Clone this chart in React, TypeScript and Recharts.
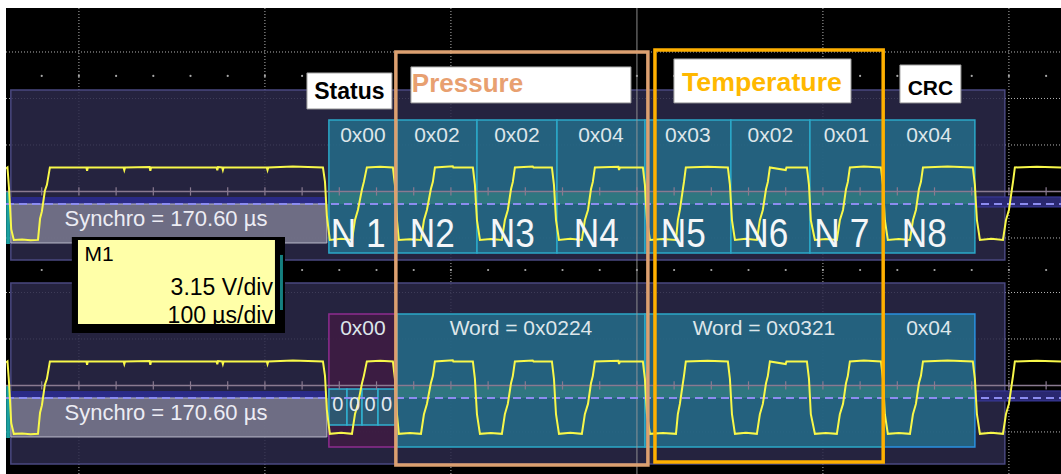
import React from 'react';
import { ComposedChart, Line, XAxis, YAxis, ReferenceArea, ReferenceLine, ReferenceDot } from 'recharts';

const W = 1055;
const H = 466;
const SANS = "'Liberation Sans', Arial, Helvetica, sans-serif";

// ---------------- data ----------------
// time in µs (0 = trigger), volts (3.15 V/div)
const timeDomain: [number, number] = [-339.2, 228];
const topVoltDomain: [number, number] = [-15.99, 15.58];
const botVoltDomain: [number, number] = [-2.85, 28.73];

// M1 trace: [time µs, volts]
const signalPoints: [number, number][] = [
  [-339.2, 4.7], [-338.4, 4.78], [-337.6, 3.4], [-336.4, 0.6], [-335.0, -0.13],
  [-330.5, -0.1], [-326.0, -0.16],
  [-322.0, -0.13], [-320.9, 1.3], [-319.9, 1.8], [-318.3, 3.2], [-317.2, 3.6], [-315.6, 4.78],
  [-296.0, 4.78], [-295.6, 4.55], [-295.2, 4.78],
  [-276.0, 4.78], [-275.6, 4.6], [-275.2, 4.78],
  [-262.0, 4.8], [-261.6, 4.55], [-261.2, 4.78],
  [-226.0, 4.78], [-225.6, 4.58], [-225.2, 4.8],
  [-223.0, 4.78], [-222.6, 4.6], [-222.2, 4.78],
  [-199.0, 4.78], [-198.6, 4.6], [-198.2, 4.78],
  [-185.0, 4.84],
  [-168.8, 4.78], [-167.7, 3.8], [-166.7, 1.5], [-165.1, -0.13],
  [-159.0, -0.06],
  [-153.2, -0.13], [-151.6, 1.2], [-150.0, 1.9], [-147.8, 3.3], [-146.8, 3.8], [-145.2, 4.78],
  [-138.0, 4.82],
  [-131.2, 4.78], [-130.1, 3.6], [-129.0, 1.2], [-128.0, -0.13],
  [-122.0, -0.08],
  [-116.1, -0.13], [-114.5, 1.2], [-112.9, 1.9], [-110.8, 3.3], [-109.7, 3.8], [-108.6, 4.78],
  [-99.0, 4.86], [-98.7, 4.78],
  [-88.2, 4.78], [-87.1, 3.6], [-86.0, 1.2], [-84.4, -0.13],
  [-78.5, -0.07],
  [-72.6, -0.13], [-71.0, 1.2], [-69.4, 1.9], [-67.7, 3.3], [-66.7, 3.8], [-65.6, 4.78],
  [-56.0, 4.84], [-55.6, 4.78],
  [-45.7, 4.78], [-44.6, 3.6], [-43.5, 1.2], [-41.9, -0.13],
  [-35.8, -0.06],
  [-29.6, -0.13], [-28.0, 1.2], [-26.3, 1.9], [-24.7, 3.3], [-23.7, 3.8], [-22.6, 4.78],
  [-10.0, 4.82], [-9.6, 4.6], [-9.2, 4.78],
  [3.2, 4.78], [4.3, 3.6], [5.4, 1.2], [7.0, -0.13],
  [14.0, -0.07],
  [21.0, -0.13], [22.0, 1.2], [23.1, 1.9], [24.7, 3.3], [25.3, 3.8], [26.3, 4.78],
  [38.0, 4.83],
  [48.9, 4.78], [50.0, 3.6], [51.1, 1.2], [52.7, -0.13],
  [58.6, -0.06],
  [64.5, -0.13], [66.1, 1.2], [67.7, 1.9], [69.4, 3.3], [70.4, 3.8], [71.5, 4.78],
  [80.0, 4.6], [80.4, 4.78],
  [91.4, 4.78], [92.5, 3.6], [93.5, 1.2], [95.7, -0.13],
  [101.6, -0.07],
  [107.5, -0.13], [109.1, 1.2], [110.8, 1.9], [112.4, 3.3], [113.4, 3.8], [114.5, 4.78],
  [122.0, 4.84],
  [131.2, 4.78], [132.3, 3.6], [133.3, 1.2], [134.9, -0.13],
  [140.8, -0.07],
  [146.8, -0.13], [148.4, 1.2], [150.0, 1.9], [151.6, 3.3], [152.7, 3.8], [153.8, 4.78],
  [167.0, 4.84],
  [180.6, 4.78], [181.7, 3.6], [182.8, 1.2], [184.4, -0.13],
  [190.6, -0.06],
  [196.8, -0.13], [198.4, 1.2], [200.0, 1.9], [201.6, 3.3], [202.2, 3.8], [203.2, 4.78],
  [215.0, 4.82], [228.0, 4.78],
];
const signal = signalPoints.map(([t, v]) => ({ t, v }));

const majorTimes = [-300, -200, -100, 100, 200];
const triggerTime = 0;
const minorTimes = [-320, -300, -280, -260, -240, -220, -200, -180, -160, -140, -120, -100, -80, -60, -40, -20, 0, 20, 40, 60, 80, 100, 120, 140, 160, 180, 200, 220];
const topGridVolts = [12.6, 9.45, 6.3, 0];
const botGridVolts = [9.45, 6.3, 0];
const axisVolts = 3.15;
const thresholdVolts = 2.3;
const dotRowVolts = [10.98, -2.17];

const byteEdges = [-165.6, -129.0, -86.0, -43.0, 4.3, 50.5, 93.0, 132.3, 181.7];
const byteValues = ['0x00', '0x02', '0x02', '0x04', '0x03', '0x02', '0x01', '0x04'];
const nibbleNames = ['N 1', 'N2', 'N3', 'N4', 'N5', 'N6', 'N 7', 'N8'];
const wordEdges = [-165.6, -129.0, 4.3, 132.3, 181.7];
const wordValues = ['0x00', 'Word = 0x0224', 'Word = 0x0321', '0x04'];
const statusBitEdges = [-165.6, -155.9, -147.8, -139.2, -130.1];
const statusBitValues = ['0', '0', '0', '0'];
const synchroLabel = 'Synchro = 170.60 µs';
const probeLines = ['M1', '3.15 V/div', '100 µs/div'];
const fieldNames = ['Status', 'Pressure', 'Temperature', 'CRC'];

// ---------------- helpers ----------------
type TextOpts = { anchor?: 'start' | 'middle' | 'end'; size: number; color: string; weight?: number | string; family?: string; len?: number };
const textShape = (label: string, o: TextOpts) => (p: any) => (
  <text
    x={p.cx}
    y={p.cy}
    textAnchor={o.anchor ?? 'middle'}
    dominantBaseline="central"
    fill={o.color}
    fontSize={o.size}
    fontWeight={o.weight ?? 'normal'}
    fontFamily={o.family ?? SANS}
    {...(o.len ? { textLength: o.len, lengthAdjust: 'spacingAndGlyphs' } : {})}
  >
    {label}
  </text>
);

export default function App() {
  const txt = (key: string, x: number, y: number, axis: string, label: string, o: TextOpts, z: number) => (
    <ReferenceDot key={key} x={x} y={y} yAxisId={axis} r={0} ifOverflow="visible" zIndex={z} shape={textShape(label, o)} />
  );
  const area = (key: string, axis: string, x1: number, x2: number, y1: number, y2: number, fill: string, fillOpacity: number, stroke: string, strokeWidth: number, z: number) => (
    <ReferenceArea key={key} yAxisId={axis} x1={x1} x2={x2} y1={y1} y2={y2} fill={fill} fillOpacity={fillOpacity} stroke={stroke} strokeWidth={strokeWidth} ifOverflow="visible" zIndex={z} />
  );

  const purple = '#2b2949';
  const cyanFill = '#246a88';
  const cyanStroke = '#2ba8c8';

  return (
    <div style={{ position: 'absolute', left: 6, top: 8, width: W, height: H, background: '#000', overflow: 'hidden' }}>
      <ComposedChart width={W} height={H} margin={{ top: 0, right: 0, bottom: 0, left: 0 }}>
        <XAxis type="number" dataKey="t" domain={timeDomain} allowDataOverflow hide />
        <YAxis yAxisId="top" type="number" domain={topVoltDomain} allowDataOverflow hide />
        <YAxis yAxisId="bot" type="number" domain={botVoltDomain} allowDataOverflow hide />

        {/* graticule (under the decode overlays) */}
        {majorTimes.map((t) => (
          <ReferenceLine key={'vg' + t} x={t} yAxisId="top" stroke="#b4b4b4" strokeDasharray="1 2" strokeWidth={1} ifOverflow="visible" zIndex={5} />
        ))}
        {topGridVolts.map((v) => (
          <ReferenceLine key={'hgt' + v} y={v} yAxisId="top" stroke="#b4b4b4" strokeDasharray="1 2" strokeWidth={1} ifOverflow="visible" zIndex={5} />
        ))}
        {botGridVolts.map((v) => (
          <ReferenceLine key={'hgb' + v} y={v} yAxisId="bot" stroke="#b4b4b4" strokeDasharray="1 2" strokeWidth={1} ifOverflow="visible" zIndex={5} />
        ))}
        {dotRowVolts.map((v) =>
          minorTimes.map((t) => (
            <ReferenceDot key={'dot' + v + '_' + t} x={t} y={v} yAxisId="top" r={1.1} fill="#a8a8a8" stroke="none" ifOverflow="visible" zIndex={5} />
          ))
        )}

        {/* decoder frames */}
        {area('pTop', 'top', -336.6, 197.8, 10.03, -1.49, purple, 0.86, '#4a4880', 1.5, 10)}
        {area('pBot', 'bot', -336.6, 197.8, 10.09, -2.17, purple, 0.86, '#4a4880', 1.5, 10)}

        {/* synchro boxes */}
        {area('bandTL', 'top', -336.6, -166.7, 2.78, 2.3, '#2a2a86', 1, 'none', 0, 20)}
        {area('bandBL', 'bot', -336.6, -166.7, 2.78, 2.3, '#2a2a86', 1, 'none', 0, 20)}
        {area('sTop', 'top', -336.6, -166.7, 2.3, -0.34, '#74748a', 0.92, '#b8b8c8', 1, 20)}
        {area('sBot', 'bot', -336.6, -166.7, 2.3, -0.34, '#74748a', 0.92, '#b8b8c8', 1, 20)}
        {area('tealT', 'top', -339.1, -337.1, 3.12, -0.41, '#1aa0a0', 1, 'none', 0, 20)}
        {area('tealB', 'bot', -339.1, -337.1, 3.12, -0.41, '#1aa0a0', 1, 'none', 0, 20)}
        {area('bandTR', 'top', 181.7, 228, 2.78, 2.1, '#2a2870', 1, '#3c3ca0', 1, 20)}
        {area('bandBR', 'bot', 181.7, 228, 2.78, 2.1, '#2a2870', 1, '#3c3ca0', 1, 20)}

        {/* byte boxes (top) */}
        {byteValues.map((b, i) => area('byte' + i, 'top', byteEdges[i], byteEdges[i + 1], 7.99, -1.02, cyanFill, 0.88, cyanStroke, 1.5, 22))}
        {/* word boxes (bottom) */}
        {area('w0', 'bot', wordEdges[0], wordEdges[1], 7.99, -1.02, '#3d1c42', 0.92, '#8e2c90', 1.5, 22)}
        {area('w1', 'bot', wordEdges[1], wordEdges[2], 7.99, -1.02, cyanFill, 0.88, cyanStroke, 1.5, 22)}
        {area('w2', 'bot', wordEdges[2], wordEdges[3], 7.99, -1.02, cyanFill, 0.88, cyanStroke, 1.5, 22)}
        {area('w3', 'bot', wordEdges[3], wordEdges[4], 7.99, -1.02, cyanFill, 0.88, '#2a90e0', 1.5, 22)}
        {statusBitValues.map((b, i) => area('sb' + i, 'bot', statusBitEdges[i], statusBitEdges[i + 1], 2.91, 0.47, '#2c5e76', 0.9, '#30b0d0', 1.5, 24))}

        {/* greenish band above threshold */}
        {area('gT', 'top', byteEdges[0], byteEdges[8], 3.1, 2.3, '#4aa884', 0.3, 'none', 0, 26)}
        {area('gB', 'bot', wordEdges[1], wordEdges[4], 3.1, 2.3, '#4aa884', 0.3, 'none', 0, 26)}

        {/* trigger line and centre axes with ticks */}
        <ReferenceLine x={triggerTime} yAxisId="top" stroke="#9a9a9a" strokeWidth={1.2} strokeOpacity={0.75} ifOverflow="visible" zIndex={30} />
        <ReferenceLine y={axisVolts} yAxisId="top" stroke="#8a7a90" strokeWidth={1.5} ifOverflow="visible" zIndex={30} />
        <ReferenceLine y={axisVolts} yAxisId="bot" stroke="#8a7a90" strokeWidth={1.5} ifOverflow="visible" zIndex={30} />
        {minorTimes.map((t) => (
          <ReferenceLine key={'tkT' + t} yAxisId="top" segment={[{ x: t, y: axisVolts - 0.28 }, { x: t, y: axisVolts + 0.28 }]} stroke="#8a7a90" strokeWidth={1.2} ifOverflow="visible" zIndex={30} />
        ))}
        {minorTimes.map((t) => (
          <ReferenceLine key={'tkB' + t} yAxisId="bot" segment={[{ x: t, y: axisVolts - 0.28 }, { x: t, y: axisVolts + 0.28 }]} stroke="#8a7a90" strokeWidth={1.2} ifOverflow="visible" zIndex={30} />
        ))}
        <ReferenceLine y={thresholdVolts} yAxisId="top" stroke="#8c8cf0" strokeWidth={2} strokeDasharray="8 5" ifOverflow="visible" zIndex={32} />
        <ReferenceLine y={thresholdVolts} yAxisId="bot" stroke="#8c8cf0" strokeWidth={2} strokeDasharray="8 5" ifOverflow="visible" zIndex={32} />

        {/* traces */}
        <Line data={signal} dataKey="v" yAxisId="top" type="linear" stroke="#f8f84a" strokeWidth={2} dot={false} activeDot={false} isAnimationActive={false} zIndex={40} />
        <Line data={signal} dataKey="v" yAxisId="bot" type="linear" stroke="#f8f84a" strokeWidth={2} dot={false} activeDot={false} isAnimationActive={false} zIndex={40} />

        {/* decode texts */}
        {txt('synT', -253.2, 1.32, 'top', synchroLabel, { size: 22, color: '#ececf4' }, 50)}
        {txt('synB', -253.2, 1.32, 'bot', synchroLabel, { size: 22, color: '#ececf4' }, 50)}
        {byteValues.map((b, i) => txt('bv' + i, (byteEdges[i] + byteEdges[i + 1]) / 2, 6.98, 'top', b, { size: 21, color: '#dde6ea' }, 50))}
        {nibbleNames.map((n, i) =>
          txt('nn' + i, (byteEdges[i] + byteEdges[i + 1]) / 2 - 2.5, 0.34, 'top', n, { size: 40, color: '#f4f6f8', len: n.length > 2 ? 55 : 45 }, 50)
        )}
        {wordValues.map((w, i) => txt('wv' + i, (wordEdges[i] + wordEdges[i + 1]) / 2, 7.05, 'bot', w, { size: 21, color: '#dde6ea' }, 50))}
        {statusBitValues.map((b, i) => txt('sbv' + i, (statusBitEdges[i] + statusBitEdges[i + 1]) / 2, 1.9, 'bot', b, { size: 20, color: '#e4eaee' }, 50))}

        {/* field frames */}
        {area('frP', 'top', -129.6, 5.9, 12.6, -15.38, 'none', 0, '#dca070', 3.5, 60)}
        {area('frT', 'top', 9.7, 132.4, 12.74, -15.18, 'none', 0, '#ffb000', 3.5, 60)}

        {/* field name boxes */}
        {area('nbS', 'top', -177.4, -131.7, 11.18, 8.74, '#ffffff', 1, '#9a9a9a', 1, 70)}
        {area('nbP', 'top', -121.5, -3.2, 11.59, 9.15, '#ffffff', 1, '#9a9a9a', 1, 70)}
        {area('nbT', 'top', 19.9, 115.1, 12.13, 9.15, '#ffffff', 1, '#9a9a9a', 1, 70)}
        {area('nbC', 'top', 141.4, 174.2, 11.72, 9.15, '#ffffff', 1, '#9a9a9a', 1, 70)}
        {txt('fnS', -154.6, 9.96, 'top', fieldNames[0], { size: 23, color: '#000', weight: 700 }, 75)}
        {txt('fnP', -121.0, 10.5, 'top', fieldNames[1], { size: 26, color: '#e8a070', weight: 700, anchor: 'start' }, 75)}
        {txt('fnT', 24.2, 10.57, 'top', fieldNames[2], { size: 26, color: '#ffb800', weight: 700, anchor: 'start', len: 160 }, 75)}
        {txt('fnC', 157.8, 10.2, 'top', fieldNames[3], { size: 21, color: '#000', weight: 700 }, 75)}

        {/* M1 probe box */}
        {area('m1f', 'top', -303.8, -189.2, 0.07, -6.44, '#000000', 1, 'none', 0, 80)}
        {area('m1y', 'top', -300.5, -194.6, -0.14, -5.83, '#ffffa8', 1, 'none', 0, 81)}
        {area('m1s', 'top', -191.9, -190.3, -1.15, -4.88, '#158080', 1, 'none', 0, 81)}
        {txt('m1a', -297.0, -1.05, 'top', probeLines[0], { size: 21, color: '#000', anchor: 'start' }, 82)}
        {txt('m1b', -195.7, -3.35, 'top', probeLines[1], { size: 23, color: '#000', anchor: 'end' }, 82)}
        {txt('m1c', -195.7, -5.22, 'top', probeLines[2], { size: 23, color: '#000', anchor: 'end' }, 82)}
        {area('m1cut', 'top', -300.5, -189.2, -5.86, -6.44, '#000000', 1, 'none', 0, 83)}
      </ComposedChart>
    </div>
  );
}
